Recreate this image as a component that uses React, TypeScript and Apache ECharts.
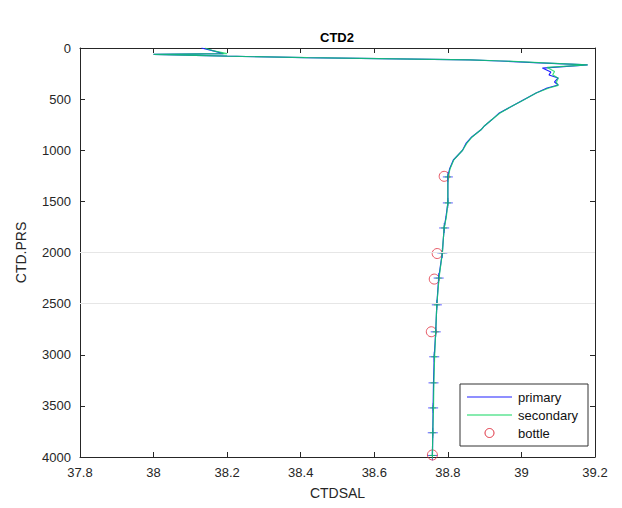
import React, { useEffect, useRef } from "react";
import * as echarts from "echarts";

// CTD cast 2: salinity (CTDSAL) against pressure (CTD.PRS)
const primaryPrs = [0, 25, 55, 62, 80, 95, 117, 127, 145, 166, 196, 235, 264, 293, 332, 362, 391, 440, 508, 577, 635, 700, 760, 800, 870, 930, 1000, 1095, 1180, 1261, 1350, 1515, 1650, 1760, 1900, 2004, 2250, 2512, 2776, 3020, 3275, 3520, 3763, 3990];
const primarySal = [38.13, 38.16, 38.19, 38.0, 38.2, 38.41, 38.86, 38.94, 39.05, 39.18, 39.057, 39.08, 39.075, 39.1, 39.09, 39.1, 39.07, 39.04, 39.005, 38.97, 38.94, 38.92, 38.9, 38.89, 38.865, 38.85, 38.84, 38.815, 38.805, 38.8, 38.8, 38.8, 38.795, 38.79, 38.787, 38.785, 38.775, 38.77, 38.767, 38.763, 38.761, 38.76, 38.759, 38.758];

const secondaryPrs = [0, 25, 55, 62, 80, 95, 117, 127, 145, 166, 190, 230, 262, 295, 335, 365, 391, 440, 508, 577, 635, 700, 760, 800, 870, 930, 1000, 1095, 1180, 1261, 1350, 1515, 1650, 1760, 1900, 2004, 2250, 2512, 2776, 3020, 3275, 3520, 3763, 3990];
const secondarySal = [38.14, 38.16, 38.2, 38.0, 38.2, 38.42, 38.86, 38.95, 39.06, 39.18, 39.07, 39.09, 39.085, 39.1, 39.095, 39.1, 39.075, 39.04, 39.006, 38.97, 38.942, 38.92, 38.9, 38.89, 38.866, 38.852, 38.84, 38.816, 38.806, 38.801, 38.8, 38.8, 38.796, 38.79, 38.787, 38.785, 38.776, 38.77, 38.767, 38.764, 38.762, 38.761, 38.759, 38.758];

// CTD values at the bottle trip levels
const tripPrs = [1261, 1515, 1760, 2004, 2250, 2512, 2776, 3020, 3275, 3520, 3763, 3985];
const tripSal = [38.8, 38.8, 38.79, 38.785, 38.775, 38.77, 38.767, 38.763, 38.761, 38.76, 38.759, 38.758];

// Bottle salinity samples
const bottlePrs = [1255, 2010, 2260, 2775, 3980];
const bottleSal = [38.79, 38.771, 38.763, 38.755, 38.758];

const xTicks = { min: 37.8, max: 39.2, interval: 0.2 };
const yTicks = { min: 0, max: 4000, interval: 500 };
const faintLevels = [2000, 2500];

const legendNames = ["primary", "secondary", "bottle"];

const pairs = (xs: number[], ys: number[]) => xs.map((x, i) => [x, ys[i]]);

const FONT = "Liberation Sans, Arial, sans-serif";
const AXIS = "#262626";
const PLUS = "path://M5 0 L5 10 M0 5 L10 5";
const BLUE = "#2020ff";
const GREEN = "#10d860";
const RED = "#e03040";

export default function App() {
  const ref = useRef<HTMLDivElement>(null);

  useEffect(() => {
    if (!ref.current) return;
    const chart = echarts.init(ref.current, undefined, { renderer: "svg" });

    const axisCommon = {
      axisLine: { show: true, onZero: false, lineStyle: { color: AXIS, width: 1 } },
      axisTick: { show: true, inside: true, length: 5, lineStyle: { color: AXIS } },
      splitLine: { show: false },
    };

    // legend box drawn as a small graphic group
    const lx = 460;
    const ly = 384;
    const rowY = [397, 415, 433];
    const legendText = legendNames.map((name, i) => ({
      type: "text",
      x: lx + 58,
      y: rowY[i],
      style: {
        text: name,
        fontFamily: FONT,
        fontSize: 13,
        fill: "#111",
        textVerticalAlign: "middle",
      },
    }));

    chart.setOption({
      animation: false,
      backgroundColor: "#ffffff",
      textStyle: { fontFamily: FONT },
      grid: { left: 80, right: 27, top: 48, bottom: 51, containLabel: false },
      graphic: [
        {
          type: "text",
          x: 337,
          y: 37,
          style: {
            text: "CTD2",
            fontFamily: FONT,
            fontWeight: "bold",
            fontSize: 13,
            fill: "#000",
            textAlign: "center",
            textVerticalAlign: "middle",
          },
        },
        {
          type: "rect",
          z: 100,
          shape: { x: lx, y: ly, width: 128, height: 62 },
          style: { fill: "#fff", stroke: "#333", lineWidth: 1 },
        },
        {
          type: "line",
          z: 101,
          shape: { x1: lx + 7, y1: rowY[0], x2: lx + 52, y2: rowY[0] },
          style: { stroke: BLUE, lineWidth: 1.2 },
        },
        {
          type: "line",
          z: 101,
          shape: { x1: lx + 7, y1: rowY[1], x2: lx + 52, y2: rowY[1] },
          style: { stroke: GREEN, lineWidth: 1.2 },
        },
        {
          type: "circle",
          z: 101,
          shape: { cx: lx + 29.5, cy: rowY[2], r: 4.5 },
          style: { fill: "none", stroke: RED, lineWidth: 1 },
        },
        ...legendText.map((t) => ({ ...t, z: 101 })),
      ],
      xAxis: [
        {
          type: "value",
          position: "bottom",
          ...xTicks,
          ...axisCommon,
          name: "CTDSAL",
          nameLocation: "middle",
          nameGap: 29,
          nameTextStyle: { fontFamily: FONT, fontSize: 14, color: AXIS },
          axisLabel: { fontFamily: FONT, fontSize: 13, color: AXIS, margin: 9 },
        },
        {
          type: "value",
          position: "top",
          ...xTicks,
          ...axisCommon,
          axisLabel: { show: false },
        },
      ],
      yAxis: [
        {
          type: "value",
          position: "left",
          inverse: true,
          ...yTicks,
          ...axisCommon,
          name: "CTD.PRS",
          nameLocation: "middle",
          nameGap: 52,
          nameTextStyle: { fontFamily: FONT, fontSize: 14, color: AXIS },
          axisLabel: {
            fontFamily: FONT,
            fontSize: 13,
            color: AXIS,
            margin: 9,
            formatter: (v: number) => String(v),
          },
        },
        {
          type: "value",
          position: "right",
          inverse: true,
          ...yTicks,
          ...axisCommon,
          axisLabel: { show: false },
        },
      ],
      series: [
        {
          name: "primary",
          type: "line",
          data: pairs(primarySal, primaryPrs),
          showSymbol: false,
          symbol: "none",
          lineStyle: { color: BLUE, width: 1.2 },
          markLine: {
            silent: true,
            symbol: "none",
            label: { show: false },
            lineStyle: { color: "#e6e6e6", width: 1, type: "solid" },
            data: faintLevels.map((v) => ({ yAxis: v })),
          },
        },
        {
          name: "secondary",
          type: "line",
          data: pairs(secondarySal, secondaryPrs),
          showSymbol: false,
          symbol: "none",
          lineStyle: { color: GREEN, width: 1.2, opacity: 0.8 },
        },
        {
          name: "tripPrimary",
          type: "scatter",
          data: pairs(tripSal, tripPrs),
          symbol: PLUS,
          symbolSize: 10,
          itemStyle: { color: "none", borderColor: "#3030ff", borderWidth: 1 },
        },
        {
          name: "tripSecondary",
          type: "scatter",
          data: pairs(tripSal, tripPrs),
          symbol: PLUS,
          symbolSize: 6,
          itemStyle: { color: "none", borderColor: "#10d040", borderWidth: 1 },
        },
        {
          name: "bottle",
          type: "scatter",
          data: pairs(bottleSal, bottlePrs),
          symbol: "circle",
          symbolSize: 10,
          itemStyle: { color: "none", borderColor: RED, borderWidth: 1 },
        },
      ],
    });

    return () => chart.dispose();
  }, []);

  return (
    <div
      ref={ref}
      style={{ position: "fixed", left: 0, top: 0, width: 622, height: 508, background: "#fff" }}
    />
  );
}
